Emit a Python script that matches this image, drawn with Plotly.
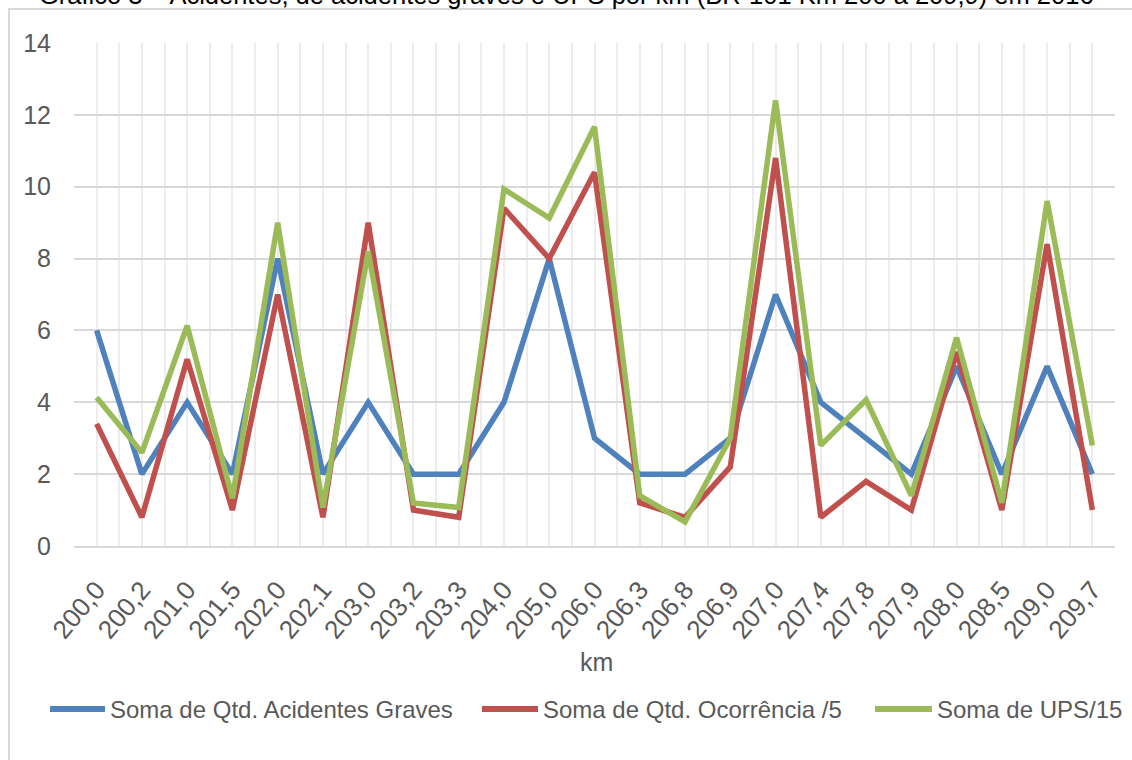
import plotly.graph_objects as go

# km markers along the highway stretch
km = ["200,0", "200,2", "201,0", "201,5", "202,0", "202,1", "203,0", "203,2",
      "203,3", "204,0", "205,0", "206,0", "206,3", "206,8", "206,9", "207,0",
      "207,4", "207,8", "207,9", "208,0", "208,5", "209,0", "209,7"]

acidentes_graves = [6, 2, 4, 2, 8, 2, 4, 2, 2, 4, 8, 3, 2, 2, 3, 7, 4, 3, 2, 5, 2, 5, 2]
ocorrencia_5 = [3.4, 0.8, 5.2, 1.0, 7.0, 0.8, 9.0, 1.0, 0.8, 9.4, 8.0, 10.4, 1.2, 0.8,
                2.2, 10.8, 0.8, 1.8, 1.0, 5.4, 1.0, 8.4, 1.0]
ups_15 = [4.13, 2.6, 6.13, 1.33, 9.0, 1.07, 8.2, 1.2, 1.07, 9.93, 9.13, 11.67, 1.4, 0.67,
          3.0, 12.4, 2.8, 4.07, 1.4, 5.8, 1.2, 9.6, 2.8]

series_names = ["Soma de Qtd. Acidentes Graves", "Soma de Qtd. Ocorrência /5", "Soma de UPS/15"]
series_colors = ["#4f81bd", "#c0504d", "#9bbb59"]

FONT = "Liberation Sans, Arial, sans-serif"
TXT = "#595959"

W, H = 1132, 760
L, R, T, B = 74, 17, 43, 214
pw, ph = W - L - R, H - T - B

def px_x(p):
    return (p - L) / pw

def px_y(p):
    return (H - B - p) / ph

xs = list(range(len(km)))
fig = go.Figure()
for name, vals, col in zip(series_names, [acidentes_graves, ocorrencia_5, ups_15], series_colors):
    fig.add_trace(go.Scatter(x=xs, y=vals, name=name, mode="lines", showlegend=False,
                             line=dict(color=col, width=5.5, shape="linear")))

fig.update_layout(
    width=W, height=H,
    margin=dict(l=L, r=R, t=T, b=B, pad=0),
    paper_bgcolor="white", plot_bgcolor="white",
    font=dict(family=FONT, color=TXT, size=22),
    showlegend=False,
    xaxis=dict(range=[-0.5, len(km) - 0.5], tickmode="array", tickvals=xs, ticktext=km,
               tickangle=-50, tickfont=dict(size=26, family=FONT, color=TXT),
               showgrid=True, gridcolor="#ececec", gridwidth=1.5,
               minor=dict(tickmode="array", tickvals=[i + 0.5 for i in range(-1, len(km))],
                          showgrid=True, gridcolor="#ececec", gridwidth=1.5),
               showline=True, linecolor="#d9d9d9", linewidth=2, ticks="", zeroline=False,
               ticklabelstandoff=16),
    yaxis=dict(range=[0, 14], dtick=2, tickfont=dict(size=25, family=FONT, color=TXT),
               showgrid=True, gridcolor="#d9d9d9", gridwidth=2, zeroline=False,
               showline=False, ticks="", ticklabelstandoff=22),
)

# legend drawn as line keys with labels
legend_keys = [(50, 105, 108), (482, 538, 541), (875, 932, 935)]
for (x0, x1, tx), name, col in zip(legend_keys, series_names, series_colors):
    fig.add_shape(type="line", xref="paper", yref="paper",
                  x0=px_x(x0), x1=px_x(x1), y0=px_y(709), y1=px_y(709),
                  line=dict(color=col, width=6))
    fig.add_annotation(text=name, xref="paper", yref="paper", x=px_x(tx), y=px_y(709),
                       xanchor="left", yanchor="middle", showarrow=False,
                       font=dict(family=FONT, size=24, color=TXT))

# x axis title
fig.add_annotation(text="km", xref="paper", yref="paper", x=px_x(596), y=px_y(662),
                   xanchor="center", yanchor="middle", showarrow=False,
                   font=dict(family=FONT, size=25, color=TXT))

# caption above the chart frame
fig.add_annotation(text="Gráfico 3 – Acidentes, de acidentes graves e UPS por km (BR-101 Km 200 a 209,9) em 2016",
                   xref="paper", yref="paper", x=px_x(566), y=px_y(11),
                   xanchor="center", yanchor="bottom", showarrow=False,
                   font=dict(family=FONT, size=25.5, color="#000000"))

# outer frame around the chart
fig.add_shape(type="rect", xref="paper", yref="paper",
              x0=px_x(9), x1=px_x(1140), y0=px_y(780), y1=px_y(9),
              line=dict(color="#d9d9d9", width=2), fillcolor="rgba(0,0,0,0)", layer="below")

fig.write_html("out.html")
